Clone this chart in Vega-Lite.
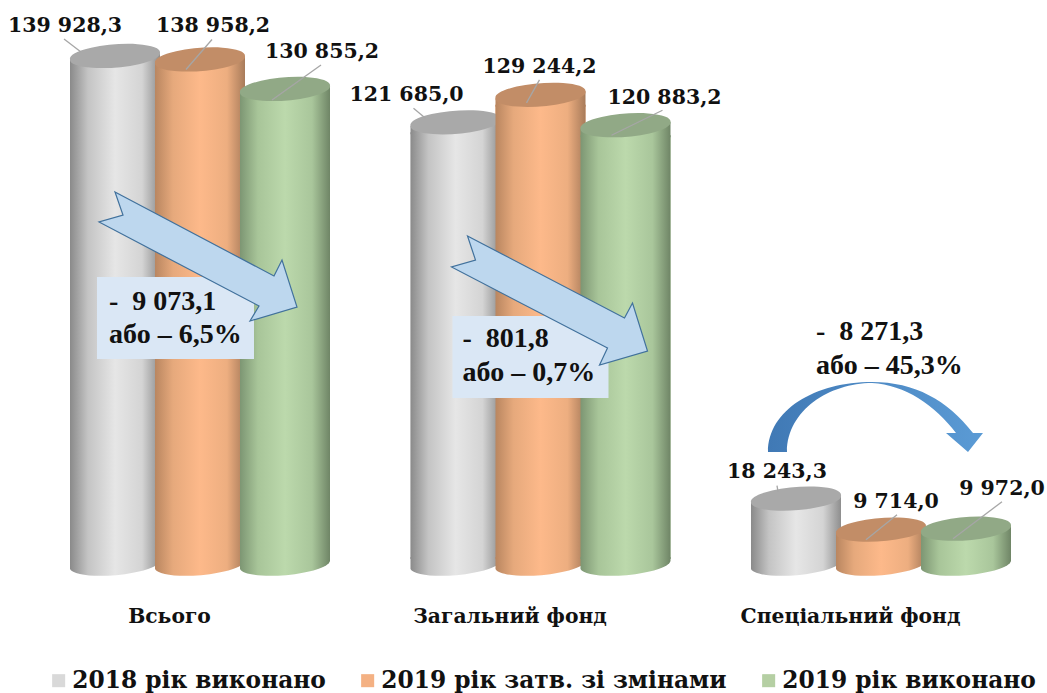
{
"$schema":"https://vega.github.io/schema/vega-lite/v6.json",
"width":1047,"height":693,"padding":0,"autosize":{"type":"none"},"background":"white",
"config":{"view":{"stroke":null},"text":{"font":"DejaVu Serif","fontWeight":"bold","fontSize":20.5,"color":"#111111"}},
"data":{"values":[
{"category":"Всього","series":"2018 рік виконано","value":139928.3,"label":"139 928,3"},
{"category":"Всього","series":"2019 рік затв. зі змінами","value":138958.2,"label":"138 958,2"},
{"category":"Всього","series":"2019 рік виконано","value":130855.2,"label":"130 855,2","note":"-\u00a0\u00a09 073,1\nабо – 6,5%"},
{"category":"Загальний фонд","series":"2018 рік виконано","value":121685.0,"label":"121 685,0"},
{"category":"Загальний фонд","series":"2019 рік затв. зі змінами","value":129244.2,"label":"129 244,2"},
{"category":"Загальний фонд","series":"2019 рік виконано","value":120883.2,"label":"120 883,2","note":"-\u00a0\u00a0801,8\nабо – 0,7%"},
{"category":"Спеціальний фонд","series":"2018 рік виконано","value":18243.3,"label":"18 243,3"},
{"category":"Спеціальний фонд","series":"2019 рік затв. зі змінами","value":9714.0,"label":"9 714,0"},
{"category":"Спеціальний фонд","series":"2019 рік виконано","value":9972.0,"label":"9 972,0","note":"-\u00a0\u00a08 271,3\nабо – 45,3%"}
]},
"encoding":{
"x":{"field":"category","type":"nominal","title":null,"sort":null,
"scale":{"type":"point","padding":0,"domain":["Всього","Загальний фонд","Спеціальний фонд"],"range":[200,881]},
"axis":{"domain":false,"ticks":false,"labelAngle":0,"offset":-88,"labelOffset":-31,"labelPadding":1,"labelFont":"DejaVu Serif","labelFontWeight":"bold","labelFontSize":20.3,"labelColor":"#111111","labelLimit":400}},
"y":{"field":"value","type":"quantitative","stack":null,"title":null,"axis":null,"scale":{"domain":[-35184,155305],"nice":false,"zero":false}}
},
"layer":[
{"transform":[{"filter":"datum.series==='2018 рік виконано'"}],"mark":{"type":"bar","width":90,"xOffset":-85,"yOffset":10},
"encoding":{"y2":{"datum":1650},"color":{"field":"series","type":"nominal","scale":{"domain":["2018 рік виконано","2019 рік затв. зі змінами","2019 рік виконано"],"range":["#d9d9d9","#f4b183","#b5cfa3"]},
"legend":{"title":null,"orient":"none","legendX":47,"legendY":669,"direction":"horizontal","columns":3,"symbolType":"square","symbolSize":170,"symbolStrokeWidth":0,"labelFont":"DejaVu Serif","labelFontWeight":"bold","labelFontSize":23.3,"labelColor":"#111111","labelLimit":500,"columnPadding":30,"labelOffset":2,"padding":0}}}},
{"transform":[{"filter":"datum.series==='2019 рік затв. зі змінами'"}],"mark":{"type":"bar","width":90,"xOffset":0,"yOffset":10},"encoding":{"y2":{"datum":1650},"color":{"field":"series","type":"nominal"}}},
{"transform":[{"filter":"datum.series==='2019 рік виконано'"}],"mark":{"type":"bar","width":90,"xOffset":85,"yOffset":10},"encoding":{"y2":{"datum":1650},"color":{"field":"series","type":"nominal"}}},

{"transform":[{"filter":"datum.series==='2018 рік виконано'"}],"layer":[
{"mark":{"type":"point","filled":true,"opacity":1,"size":4,"xOffset":-85,"shape":"M-45,-8 L45,-8 L45,-4 A45.3,11 -5 0 1 -45,4 Z","fill":{"gradient":"linear","x1":0,"y1":0,"x2":1,"y2":0,"stops":[{"offset":0,"color":"#8a8a8a"},{"offset":0.2,"color":"#c4c4c4"},{"offset":0.5,"color":"#e6e6e6"},{"offset":0.8,"color":"#d4d4d4"},{"offset":1,"color":"#8e8e8e"}]}},"encoding":{"y":{"datum":0,"type":"quantitative"}}},
{"mark":{"type":"bar","width":90,"xOffset":-85,"yOffset":10,"fill":{"gradient":"linear","x1":0,"y1":0,"x2":1,"y2":0,"stops":[{"offset":0,"color":"#8a8a8a"},{"offset":0.2,"color":"#c4c4c4"},{"offset":0.5,"color":"#e6e6e6"},{"offset":0.8,"color":"#d4d4d4"},{"offset":1,"color":"#8e8e8e"}]}},"encoding":{"y2":{"datum":1650}}},
{"mark":{"type":"point","filled":true,"opacity":1,"size":4,"xOffset":-85,"shape":"M-45,3.5 L45,-3.5 L45,12 L-45,12 Z","fill":{"gradient":"linear","x1":0,"y1":0,"x2":1,"y2":0,"stops":[{"offset":0,"color":"#8a8a8a"},{"offset":0.2,"color":"#c4c4c4"},{"offset":0.5,"color":"#e6e6e6"},{"offset":0.8,"color":"#d4d4d4"},{"offset":1,"color":"#8e8e8e"}]}}},
{"mark":{"type":"point","filled":true,"opacity":1,"size":4,"xOffset":-85,"shape":"M-45,3.5 A45.2,11 -4.5 1 1 45,-3.5 A45.2,11 -4.5 1 1 -45,3.5 Z","fill":"#a9a9a9"}}
]},
{"transform":[{"filter":"datum.series==='2019 рік затв. зі змінами'"}],"layer":[
{"mark":{"type":"point","filled":true,"opacity":1,"size":4,"xOffset":0,"shape":"M-45,-8 L45,-8 L45,-4 A45.3,11 -5 0 1 -45,4 Z","fill":{"gradient":"linear","x1":0,"y1":0,"x2":1,"y2":0,"stops":[{"offset":0,"color":"#b98660"},{"offset":0.2,"color":"#e6a97c"},{"offset":0.5,"color":"#fdb98a"},{"offset":0.8,"color":"#edae80"},{"offset":1,"color":"#a87b5a"}]}},"encoding":{"y":{"datum":0,"type":"quantitative"}}},
{"mark":{"type":"bar","width":90,"xOffset":0,"yOffset":10,"fill":{"gradient":"linear","x1":0,"y1":0,"x2":1,"y2":0,"stops":[{"offset":0,"color":"#b98660"},{"offset":0.2,"color":"#e6a97c"},{"offset":0.5,"color":"#fdb98a"},{"offset":0.8,"color":"#edae80"},{"offset":1,"color":"#a87b5a"}]}},"encoding":{"y2":{"datum":1650}}},
{"mark":{"type":"point","filled":true,"opacity":1,"size":4,"xOffset":0,"shape":"M-45,3.5 L45,-3.5 L45,12 L-45,12 Z","fill":{"gradient":"linear","x1":0,"y1":0,"x2":1,"y2":0,"stops":[{"offset":0,"color":"#b98660"},{"offset":0.2,"color":"#e6a97c"},{"offset":0.5,"color":"#fdb98a"},{"offset":0.8,"color":"#edae80"},{"offset":1,"color":"#a87b5a"}]}}},
{"mark":{"type":"point","filled":true,"opacity":1,"size":4,"xOffset":0,"shape":"M-45,3.5 A45.2,11 -4.5 1 1 45,-3.5 A45.2,11 -4.5 1 1 -45,3.5 Z","fill":"#c28d67"}}
]},
{"transform":[{"filter":"datum.series==='2019 рік виконано'"}],"layer":[
{"mark":{"type":"point","filled":true,"opacity":1,"size":4,"xOffset":85,"shape":"M-45,-8 L45,-8 L45,-4 A45.3,11 -5 0 1 -45,4 Z","fill":{"gradient":"linear","x1":0,"y1":0,"x2":1,"y2":0,"stops":[{"offset":0,"color":"#7d9673"},{"offset":0.2,"color":"#a8c599"},{"offset":0.5,"color":"#bcd9ac"},{"offset":0.8,"color":"#a9c69b"},{"offset":1,"color":"#6f8566"}]}},"encoding":{"y":{"datum":0,"type":"quantitative"}}},
{"mark":{"type":"bar","width":90,"xOffset":85,"yOffset":10,"fill":{"gradient":"linear","x1":0,"y1":0,"x2":1,"y2":0,"stops":[{"offset":0,"color":"#7d9673"},{"offset":0.2,"color":"#a8c599"},{"offset":0.5,"color":"#bcd9ac"},{"offset":0.8,"color":"#a9c69b"},{"offset":1,"color":"#6f8566"}]}},"encoding":{"y2":{"datum":1650}}},
{"mark":{"type":"point","filled":true,"opacity":1,"size":4,"xOffset":85,"shape":"M-45,3.5 L45,-3.5 L45,12 L-45,12 Z","fill":{"gradient":"linear","x1":0,"y1":0,"x2":1,"y2":0,"stops":[{"offset":0,"color":"#7d9673"},{"offset":0.2,"color":"#a8c599"},{"offset":0.5,"color":"#bcd9ac"},{"offset":0.8,"color":"#a9c69b"},{"offset":1,"color":"#6f8566"}]}}},
{"mark":{"type":"point","filled":true,"opacity":1,"size":4,"xOffset":85,"shape":"M-45,3.5 A45.2,11 -4.5 1 1 45,-3.5 A45.2,11 -4.5 1 1 -45,3.5 Z","fill":"#91a986"}}
]},

{"transform":[{"filter":"datum.label==='139 928,3'"}],"layer":[{"mark":{"type":"text","xOffset":-85,"dx":-50,"dy":-30},"encoding":{"text":{"field":"label"}}},{"mark":{"type":"point","xOffset":-85,"size":4,"opacity":1,"filled":false,"stroke":"#a6a6a6","strokeWidth":1.3,"shape":"M-51,-17 L-34,-4"}}]},
{"transform":[{"filter":"datum.label==='138 958,2'"}],"layer":[{"mark":{"type":"text","dx":13,"dy":-33.5},"encoding":{"text":{"field":"label"}}},{"mark":{"type":"point","size":4,"opacity":1,"filled":false,"stroke":"#a6a6a6","strokeWidth":1.3,"shape":"M12,-20 L-14,10"}}]},
{"transform":[{"filter":"datum.label==='130 855,2'"}],"layer":[{"mark":{"type":"text","xOffset":85,"dx":37,"dy":-37},"encoding":{"text":{"field":"label"}}},{"mark":{"type":"point","xOffset":85,"size":4,"opacity":1,"filled":false,"stroke":"#a6a6a6","strokeWidth":1.3,"shape":"M36,-24 L-13,11"}}]},
{"transform":[{"filter":"datum.label==='121 685,0'"}],"layer":[{"mark":{"type":"text","xOffset":-85,"dx":-49,"dy":-27},"encoding":{"text":{"field":"label"}}},{"mark":{"type":"point","xOffset":-85,"size":4,"opacity":1,"filled":false,"stroke":"#a6a6a6","strokeWidth":1.3,"shape":"M-42,-14 L-30,-4"}}]},
{"transform":[{"filter":"datum.label==='129 244,2'"}],"layer":[{"mark":{"type":"text","dx":-1,"dy":-28},"encoding":{"text":{"field":"label"}}},{"mark":{"type":"point","size":4,"opacity":1,"filled":false,"stroke":"#a6a6a6","strokeWidth":1.3,"shape":"M-1,-15 L-14,8"}}]},
{"transform":[{"filter":"datum.label==='120 883,2'"}],"layer":[{"mark":{"type":"text","xOffset":85,"dx":39,"dy":-27},"encoding":{"text":{"field":"label"}}},{"mark":{"type":"point","xOffset":85,"size":4,"opacity":1,"filled":false,"stroke":"#a6a6a6","strokeWidth":1.3,"shape":"M37,-15 L-14,10"}}]},
{"transform":[{"filter":"datum.label==='18 243,3'"}],"layer":[{"mark":{"type":"text","xOffset":-85,"dx":-19,"dy":-27},"encoding":{"text":{"field":"label"}}},{"mark":{"type":"point","xOffset":-85,"size":4,"opacity":1,"filled":false,"stroke":"#a6a6a6","strokeWidth":1.3,"shape":"M-19,-13 L-18,-7"}}]},
{"transform":[{"filter":"datum.label==='9 714,0'"}],"layer":[{"mark":{"type":"text","dx":15,"dy":-28},"encoding":{"text":{"field":"label"}}},{"mark":{"type":"point","size":4,"opacity":1,"filled":false,"stroke":"#a6a6a6","strokeWidth":1.3,"shape":"M16,-15 L-15,10"}}]},
{"transform":[{"filter":"datum.label==='9 972,0'"}],"layer":[{"mark":{"type":"text","xOffset":85,"dx":36,"dy":-40},"encoding":{"text":{"field":"label"}}},{"mark":{"type":"point","xOffset":85,"size":4,"opacity":1,"filled":false,"stroke":"#a6a6a6","strokeWidth":1.3,"shape":"M36,-27 L-13,10"}}]},

{"transform":[{"filter":"datum.note && datum.category==='Всього'"}],"layer":[
{"mark":{"type":"point","filled":true,"opacity":1,"size":4,"fill":"#dae7f5","shape":"M-103,27 L54,27 L54,109 L-103,109 Z"},"encoding":{"y":{"datum":86586,"type":"quantitative"}}},
{"mark":{"type":"point","filled":true,"opacity":1,"size":4,"fill":"#bdd7ee","stroke":"#41719c","strokeWidth":1.2,"shape":"M-85,-58 L74,26 L82,10 L97,57 L50,71 L59,56 L-101,-28 L-77,-35 Z"},"encoding":{"y":{"datum":86586,"type":"quantitative"}}},
{"mark":{"type":"text","font":"Liberation Serif","fontSize":28,"align":"left","baseline":"middle","lineBreak":"\n","lineHeight":33,"dx":-91},"encoding":{"y":{"datum":72293,"type":"quantitative"},"text":{"field":"note"}}}
]},
{"transform":[{"filter":"datum.note && datum.category==='Загальний фонд'"}],"layer":[
{"mark":{"type":"point","filled":true,"opacity":1,"size":4,"fill":"#dae7f5","shape":"M-88,26 L68,26 L68,108 L-88,108 Z"},"encoding":{"y":{"datum":75591,"type":"quantitative"}}},
{"mark":{"type":"point","filled":true,"opacity":1,"size":4,"fill":"#bdd7ee","stroke":"#41719c","strokeWidth":1.2,"shape":"M-73,-54 L84,28 L92,13 L107,61 L59,75 L67,58 L-89,-23 L-65,-30 Z"},"encoding":{"y":{"datum":75591,"type":"quantitative"}}},
{"mark":{"type":"text","font":"Liberation Serif","fontSize":28,"align":"left","baseline":"middle","lineBreak":"\n","lineHeight":34,"dx":-78},"encoding":{"y":{"datum":62122,"type":"quantitative"},"text":{"field":"note"}}}
]},
{"transform":[{"filter":"datum.note && datum.category==='Спеціальний фонд'"}],"layer":[
{"mark":{"type":"point","filled":true,"opacity":1,"size":4,"shape":"M-113,32 C-113,-10 -66,-38 -9,-38 C34,-38 66,-20 92,13 L102,13 L87,32 L65,13 L75,13 C54,-15 24,-35 -9,-37 C-51,-37 -94,-10 -94,32 Z","fill":{"gradient":"linear","x1":0,"y1":0,"x2":1,"y2":0,"stops":[{"offset":0,"color":"#4079b5"},{"offset":1,"color":"#5b9bd5"}]}},"encoding":{"y":{"datum":39857,"type":"quantitative"}}},
{"mark":{"type":"text","font":"Liberation Serif","fontSize":28,"align":"left","baseline":"middle","lineBreak":"\n","lineHeight":34,"dx":-65},"encoding":{"y":{"datum":64046,"type":"quantitative"},"text":{"field":"note"}}}
]}
]
}
